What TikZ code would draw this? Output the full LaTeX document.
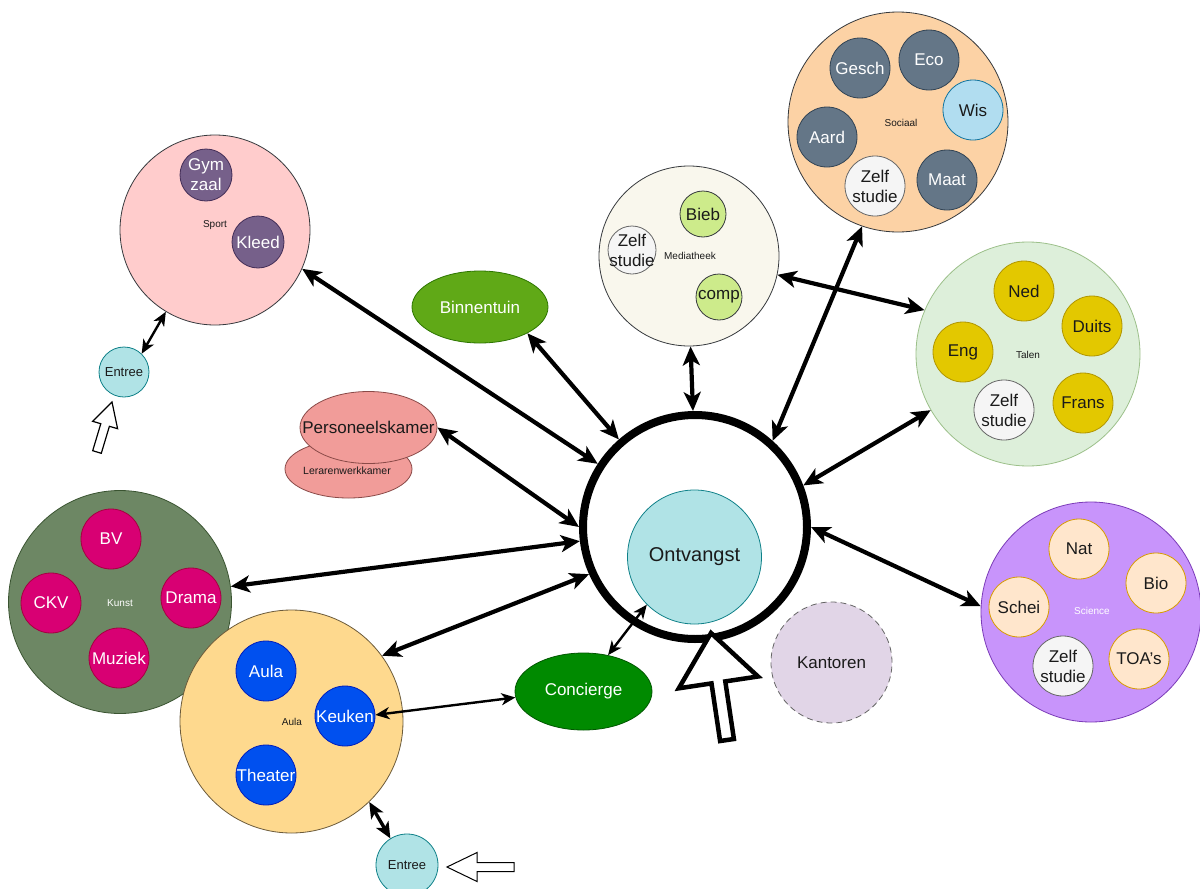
\documentclass[tikz,border=0pt]{standalone}
\usepackage{fontspec}
\setmainfont{Liberation Sans}
\usetikzlibrary{shapes.geometric, arrows.meta}
\definecolor{dk}{HTML}{36393D}
\definecolor{txtc}{HTML}{1A1A1A}
\definecolor{sportF}{HTML}{FFCCCC}
\definecolor{purpF}{HTML}{76608A}
\definecolor{purpD}{HTML}{432D57}
\definecolor{cyanF}{HTML}{B0E3E6}
\definecolor{cyanD}{HTML}{0E8088}
\definecolor{mediaF}{HTML}{F9F7ED}
\definecolor{limeF}{HTML}{CDEB8B}
\definecolor{greyF}{HTML}{F5F5F5}
\definecolor{greyD}{HTML}{666666}
\definecolor{socF}{HTML}{FCD2A5}
\definecolor{slateF}{HTML}{647687}
\definecolor{slateD}{HTML}{314354}
\definecolor{blueF}{HTML}{B1DDF0}
\definecolor{blueD}{HTML}{10739E}
\definecolor{talF}{HTML}{DDEFDA}
\definecolor{talD}{HTML}{9CC08A}
\definecolor{yelF}{HTML}{E3C800}
\definecolor{yelD}{HTML}{B09500}
\definecolor{sciF}{HTML}{C894FB}
\definecolor{sciD}{HTML}{7B3BB8}
\definecolor{peachF}{HTML}{FFE6CC}
\definecolor{peachD}{HTML}{D79B00}
\definecolor{kunF}{HTML}{6D8764}
\definecolor{kunD}{HTML}{3A5431}
\definecolor{magF}{HTML}{D80073}
\definecolor{magD}{HTML}{A50040}
\definecolor{aulaF}{HTML}{FED98E}
\definecolor{aulaD}{HTML}{6B5A3A}
\definecolor{royF}{HTML}{0050EF}
\definecolor{royD}{HTML}{001DBC}
\definecolor{bintF}{HTML}{60A917}
\definecolor{bintD}{HTML}{2D7600}
\definecolor{persF}{HTML}{F19C99}
\definecolor{persD}{HTML}{8A4A48}
\definecolor{concF}{HTML}{008A00}
\definecolor{concD}{HTML}{005700}
\definecolor{kantF}{HTML}{E1D5E7}
\tikzset{
  circ/.style={circle, inner sep=0pt, line width=0.8pt},
  ell/.style={ellipse, inner sep=0pt, line width=0.8pt},
  txt/.style={align=center, font=\fontsize{17}{20}\selectfont, inner sep=0pt, text=txtc},
  T/.style={label={[txt]center:{#1}}},
  W/.style={label={[txt, text=white]center:{#1}}},
  small/.style={font=\fontsize{10}{12}\selectfont, inner sep=0pt, text=txtc},
  dbl/.style={line width=4.2pt, {Stealth[length=19pt,width=17pt,inset=5pt]}-{Stealth[length=19pt,width=17pt,inset=5pt]}},
  dblmid/.style={line width=3.4pt, {Stealth[length=16pt,width=14pt,inset=4pt]}-{Stealth[length=16pt,width=14pt,inset=4pt]}},
  dblthin/.style={line width=2.4pt, {Stealth[length=14pt,width=12pt,inset=4pt]}-{Stealth[length=14pt,width=12pt,inset=4pt]}},
  hollow/.style={draw=black, fill=white, line join=miter}
}
\begin{document}
\begin{tikzpicture}[x=1pt,y=-1pt]
\useasboundingbox (0,0) rectangle (1200,889);
\clip (0,0) rectangle (1200,889);
\fill[white] (0,0) rectangle (1200,889);

% Sport
\node[circ, fill=sportF, draw=dk, minimum size=190pt] (sport) at (215,230) {};
\node[small] (sportlbl) at (215,225) {Sport};
\node[circ, fill=purpF, draw=purpD, minimum size=52pt, W={Gym\\zaal}] (gym) at (206,175) {};
\node[circ, fill=purpF, draw=purpD, minimum size=52pt, W={Kleed}] (kleed) at (258,242) {};
\node[circ, fill=cyanF, draw=cyanD, minimum size=50pt, label={[small, font=\fontsize{13}{15}\selectfont]center:Entree}] (entree1) at (124,372) {};
\draw[hollow, line width=1.2pt] (112,402) -- (117.6,428.7) -- (109.4,426.3) -- (101.3,453.3) -- (92.7,450.7) -- (100.8,423.7) -- (92.6,421.3) -- cycle;

% Mediatheek
\node[circ, fill=mediaF, draw=dk, minimum size=180pt] (media) at (689,256) {};
\node[small] (medialbl) at (690,256) {Mediatheek};
\node[circ, fill=limeF, draw=dk, minimum size=46pt, T={Bieb}] (bieb) at (703,214) {};
\node[circ, fill=limeF, draw=dk, minimum size=46pt, T={comp}] (comp) at (719,297) {};
\node[circ, fill=greyF, draw=greyD, minimum size=48pt, T={Zelf\\studie}] (mzelf) at (632,250) {};

% Sociaal
\node[circ, fill=socF, draw=dk, minimum size=220pt] (sociaal) at (898,122) {};
\node[small] (soclbl) at (901,123) {Sociaal};
\node[circ, fill=slateF, draw=slateD, minimum size=60pt, W={Gesch}] (gesch) at (860,68) {};
\node[circ, fill=slateF, draw=slateD, minimum size=60pt, W={Eco}] (eco) at (929,60) {};
\node[circ, fill=blueF, draw=blueD, minimum size=60pt, T={Wis}] (wis) at (973,110) {};
\node[circ, fill=slateF, draw=slateD, minimum size=60pt, W={Aard}] (aard) at (827,137) {};
\node[circ, fill=slateF, draw=slateD, minimum size=60pt, W={Maat}] (maat) at (947,180) {};
\node[circ, fill=greyF, draw=greyD, minimum size=60pt, T={Zelf\\studie}] (szelf) at (875,186) {};

% Talen
\node[circ, fill=talF, draw=talD, minimum size=224pt] (talen) at (1028,354) {};
\node[small] (talenlbl) at (1028,355) {Talen};
\node[circ, fill=yelF, draw=yelD, minimum size=60pt, T={Ned}] (ned) at (1024,291) {};
\node[circ, fill=yelF, draw=yelD, minimum size=60pt, T={Duits}] (duits) at (1092,326) {};
\node[circ, fill=yelF, draw=yelD, minimum size=60pt, T={Eng}] (eng) at (963,352) {};
\node[circ, fill=yelF, draw=yelD, minimum size=60pt, T={Frans}] (frans) at (1083,403) {};
\node[circ, fill=greyF, draw=greyD, minimum size=60pt, T={Zelf\\studie}] (tzelf) at (1004,410) {};

% Science
\node[circ, fill=sciF, draw=sciD, minimum size=220pt] (science) at (1091,612) {};
\node[small, text=white] (scilbl) at (1092,611) {Science};
\node[circ, fill=peachF, draw=peachD, minimum size=60pt, T={Nat}] (nat) at (1079,549) {};
\node[circ, fill=peachF, draw=peachD, minimum size=60pt, T={Bio}] (bio) at (1156,583) {};
\node[circ, fill=peachF, draw=peachD, minimum size=60pt, T={Schei}] (schei) at (1019,607) {};
\node[circ, fill=peachF, draw=peachD, minimum size=60pt, T={TOA's}] (toas) at (1139,659) {};
\node[circ, fill=greyF, draw=greyD, minimum size=60pt, T={Zelf\\studie}] (sczelf) at (1063,666) {};

% Kunst
\node[circ, fill=kunF, draw=kunD, minimum size=223pt] (kunst) at (120,602) {};
\node[small, text=white] (kunstlbl) at (120,603) {Kunst};
\node[circ, fill=magF, draw=magD, minimum size=60pt, W={BV}] (bv) at (111,539) {};
\node[circ, fill=magF, draw=magD, minimum size=60pt, W={CKV}] (ckv) at (51,603) {};
\node[circ, fill=magF, draw=magD, minimum size=60pt, W={Drama}] (drama) at (191,598) {};
\node[circ, fill=magF, draw=magD, minimum size=60pt, W={Muziek}] (muziek) at (119,658) {};

% Aula
\node[circ, fill=aulaF, draw=aulaD, minimum size=223pt] (aula) at (291.5,721.5) {};
\node[small] (aulalbl) at (292,722) {Aula};
\node[circ, fill=royF, draw=royD, minimum size=60pt, W={Aula}] (aulain) at (266,671) {};
\node[circ, fill=royF, draw=royD, minimum size=60pt, W={Keuken}] (keuken) at (345,716) {};
\node[circ, fill=royF, draw=royD, minimum size=60pt, W={Theater}] (theater) at (266,775) {};
\node[circ, fill=cyanF, draw=cyanD, minimum size=62pt, label={[small, font=\fontsize{13}{15}\selectfont]center:Entree}] (entree2) at (407,865) {};
\draw[hollow, line width=1pt] (447,867) -- (477,852.5) -- (477,862.5) -- (514,862.5) -- (514,871.5) -- (477,871.5) -- (477,881.5) -- cycle;

% Ellipses
\node[ell, fill=bintF, draw=bintD, minimum width=136pt, minimum height=72pt, label={[txt, text=white]center:Binnentuin}] (binnen) at (480,307) {};
\node[ell, fill=persF, draw=persD, minimum width=127pt, minimum height=58pt] (leraren) at (348.5,469) {};
\node[small, font=\fontsize{10.5}{12}\selectfont] (lerlbl) at (347,471) {Lerarenwerkkamer};
\node[ell, fill=persF, draw=persD, minimum width=137pt, minimum height=72pt, label={[txt]center:Personeelskamer}] (personeel) at (368.5,427.5) {};
\node[ell, fill=concF, draw=concD, minimum width=137pt, minimum height=77pt, label={[txt, text=white]center:Concierge}] (concierge) at (583.5,691.5) {};
\node[circ, fill=kantF, draw=greyD, dash pattern=on 6pt off 4pt, minimum size=121pt, T={Kantoren}] (kantoren) at (831.5,662.5) {};

% Ontvangst ring
\node[circle, draw=black, line width=8pt, minimum size=224pt, inner sep=0pt] (ring) at (695,527) {};
\node[circ, fill=cyanF, draw=cyanD, minimum size=134pt, label={[txt, font=\fontsize{20}{24}\selectfont]center:Ontvangst}] (ontvangst) at (694.5,557) {};

% Main entrance arrow
\draw[hollow, line width=4.5pt] (711,633) -- (758.0,676.5) -- (725.3,681.4) -- (733.9,739.0) -- (720.1,741.0) -- (711.5,683.4) -- (678.8,688.3) -- cycle;

% Connectors
\draw[dbl] (sport.-24) -- (ring.147);
\draw[dbl] (binnen.-29) -- (ring.131);
\draw[dbl] (media.-89) -- (ring.91);
\draw[dbl] (sociaal.251) -- (ring.48);
\draw[dbl] (media.-12) -- (talen.157);
\draw[dbl] (talen.210) -- (ring.21);
\draw[dbl] (science.177) -- (ring.0);
\draw[dbl] (personeel.0) -- (ring.180);
\draw[dbl] (kunst.8.6) -- (ring.187);
\draw[dbl] (aula.36) -- (ring.204);
\draw[dblthin] (keuken.2) -- (concierge.185);
\draw[dblthin] (concierge.56) -- (ontvangst.225);
\draw[dblthin] (entree1.46) -- (sport.-121);
\draw[dblmid] (aula.-46) -- (entree2.122);
\end{tikzpicture}
\end{document}
